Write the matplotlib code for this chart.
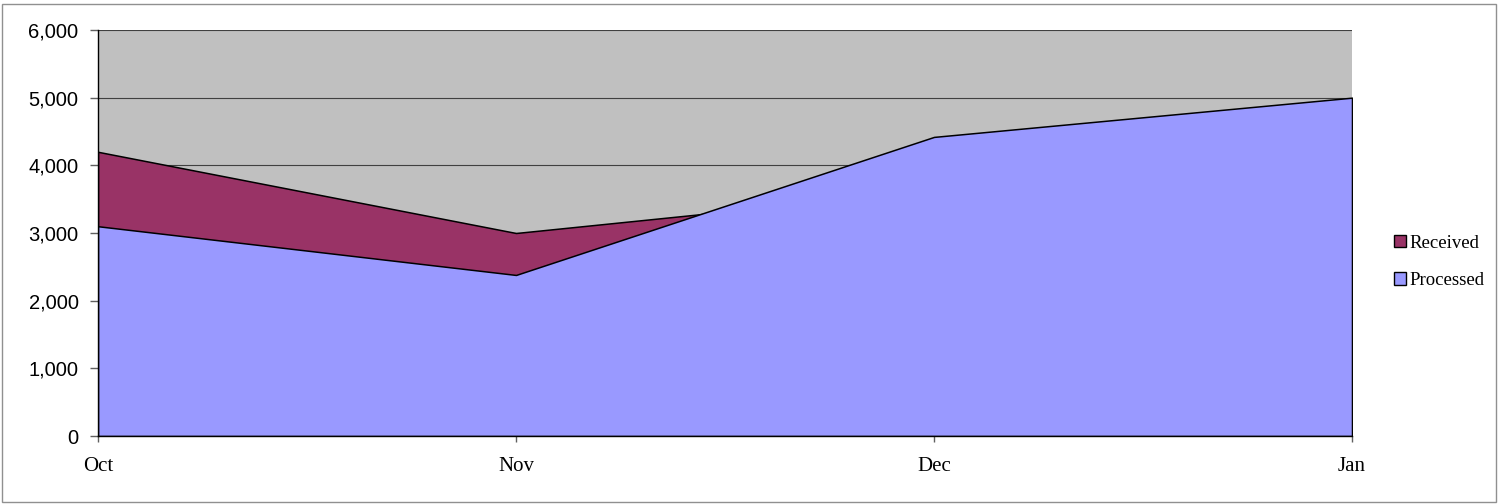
import matplotlib.pyplot as plt
from matplotlib.patches import Patch, Rectangle
from matplotlib.ticker import FuncFormatter

# data
months = ['Oct', 'Nov', 'Dec', 'Jan']
received = [4200, 3000, 3630, 4700]
processed = [3100, 2380, 4420, 5000]

fig = plt.figure(figsize=(15.02, 5.04), dpi=100)
ax = fig.add_axes([98 / 1502, 68 / 504, (1352 - 98) / 1502, (436 - 30) / 504])
ax.set_facecolor('#C0C0C0')

x = list(range(len(months)))
# Received behind, Processed in front (overlapping areas, not stacked)
ax.fill_between(x, 0, received, facecolor='#993366', edgecolor='black', linewidth=1.1, zorder=2)
ax.fill_between(x, 0, processed, facecolor='#9999FF', edgecolor='black', linewidth=1.1, zorder=3)

ax.set_xlim(0, 3)
ax.set_ylim(0, 6000)
ax.set_yticks(range(0, 6001, 1000))
ax.yaxis.set_major_formatter(FuncFormatter(lambda v, p: f'{int(v):,}'))
ax.set_xticks(x)
ax.set_xticklabels(months, fontfamily='Liberation Serif', fontsize=15)
for lab in ax.get_yticklabels():
    lab.set_fontfamily('Liberation Sans')
    lab.set_fontsize(14.5)

ax.grid(axis='y', color='#404040', linewidth=0.8)
ax.set_axisbelow(True)
ax.tick_params(axis='y', length=6, width=1, pad=8, color='#606060')
ax.tick_params(axis='x', length=4, width=1, pad=11, color='#606060')

for s in ['top', 'right']:
    ax.spines[s].set_visible(False)
for s in ['left', 'bottom']:
    ax.spines[s].set_color('black')
    ax.spines[s].set_linewidth(1)
    ax.spines[s].set_zorder(5)

handles = [Patch(facecolor='#993366', edgecolor='black', label='Received'),
           Patch(facecolor='#9999FF', edgecolor='black', label='Processed')]
fig.legend(handles=handles, loc='center left', bbox_to_anchor=(1386 / 1502, 1 - 262 / 504),
           frameon=False, prop={'family': 'Liberation Serif', 'size': 13.5},
           handlelength=0.65, handleheight=0.65, handletextpad=0.2, labelspacing=1.1,
           borderaxespad=0)

# thin border round the whole chart
fig.patches.append(Rectangle((2 / 1502, 2 / 504), 1494 / 1502, 498 / 504, transform=fig.transFigure,
                             fill=False, edgecolor='#909090', linewidth=1))

fig.savefig('out.png', dpi=100)
